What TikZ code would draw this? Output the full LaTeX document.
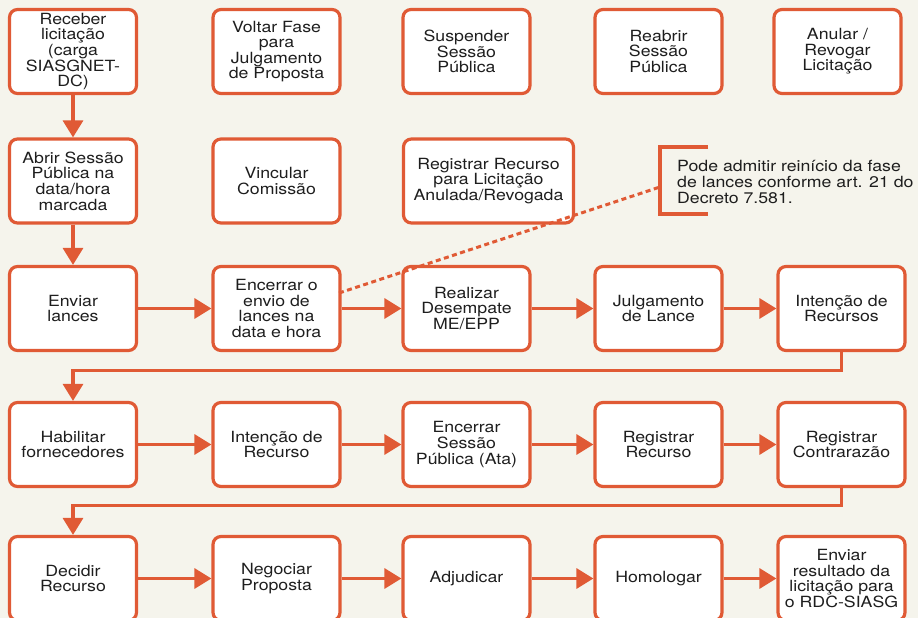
\documentclass[tikz,border=0pt]{standalone}
\usepackage{fontspec}
\setmainfont{TeX Gyre Heros}[FakeStretch=1.15]
\usetikzlibrary{arrows.meta}
\definecolor{bgc}{HTML}{F5F4EC}
\definecolor{org}{HTML}{E05A35}
\definecolor{txt}{HTML}{1E1E1E}
\begin{document}
\begin{tikzpicture}[x=1pt,y=-1pt,
  box/.style={draw=org, line width=3.2pt, fill=white, rounded corners=8pt,
    minimum width=127pt, minimum height=84pt, align=center, inner sep=0pt,
    text=txt, font=\fontsize{15.4}{15.6}\selectfont},
  widebox/.style={box, minimum width=170pt},
  conn/.style={draw=org, line width=3.2pt, -{Triangle[length=17pt,width=20pt]}},
  notedash/.style={draw=org, line width=3pt, dash pattern=on 5pt off 3.5pt},
  bracket/.style={draw=org, line width=3.2pt},
  notetext/.style={align=left, inner sep=0pt, text=txt, anchor=west,
    font=\fontsize{15.4}{16}\selectfont}]
\useasboundingbox (0,0) rectangle (918,618);
\fill[bgc] (0,0) rectangle (918,618);

% row 1
\node[box] (r1c1) at (73,51.5) {Receber\\licitação\\(carga\\SIASGNET-\\DC)};
\node[box] (r1c2) at (276.5,51.5) {Voltar Fase\\para\\Julgamento\\de Proposta};
\node[box] (r1c3) at (466.5,51.5) {Suspender\\Sessão\\Pública};
\node[box] (r1c4) at (658.5,51.5) {Reabrir\\Sessão\\Pública};
\node[box] (r1c5) at (837.5,51.5) {Anular /\\Revogar\\Licitação};
% row 2
\node[box] (r2c1) at (73,181) {Abrir Sessão\\Pública na\\data/hora\\marcada};
\node[box] (r2c2) at (276.5,181) {Vincular\\Comissão};
\node[widebox] (r2c3) at (488.5,181) {Registrar Recurso\\para Licitação\\Anulada/Revogada};
% row 3
\node[box] (r3c1) at (73,308.5) {Enviar\\lances};
\node[box] (r3c2) at (276.5,308.5) {Encerrar o\\envio de\\lances na\\data e hora};
\node[box] (r3c3) at (466.5,308.5) {Realizar\\Desempate\\ME/EPP};
\node[box] (r3c4) at (658.5,308.5) {Julgamento\\de Lance};
\node[box] (r3c5) at (841.5,308.5) {Intenção de\\Recursos};
% row 4
\node[box] (r4c1) at (73,444.5) {Habilitar\\fornecedores};
\node[box] (r4c2) at (276.5,444.5) {Intenção de\\Recurso};
\node[box] (r4c3) at (466.5,444.5) {Encerrar\\Sessão\\Pública (Ata)};
\node[box] (r4c4) at (658.5,444.5) {Registrar\\Recurso};
\node[box] (r4c5) at (841.5,444.5) {Registrar\\Contrarazão};
% row 5
\node[box] (r5c1) at (73,578.5) {Decidir\\Recurso};
\node[box] (r5c2) at (276.5,578.5) {Negociar\\Proposta};
\node[box] (r5c3) at (466.5,578.5) {Adjudicar};
\node[box] (r5c4) at (658.5,578.5) {Homologar};
\node[box] (r5c5) at (841.5,578.5) {Enviar\\resultado da\\licitação para\\o RDC-SIASG};

% connectors
\draw[conn] (r1c1.south) -- (r2c1.north);
\draw[conn] (r2c1.south) -- (r3c1.north);
\foreach \r in {3,4,5}{
  \draw[conn] (r\r c1.east) -- (r\r c2.west);
  \draw[conn] (r\r c2.east) -- (r\r c3.west);
  \draw[conn] (r\r c3.east) -- (r\r c4.west);
  \draw[conn] (r\r c4.east) -- (r\r c5.west);
}
\draw[conn] (r3c5.south) -- ++(0,18.5) -| (r4c1.north);
\draw[conn] (r4c5.south) -- ++(0,17) -| (r5c1.north);

% note
\node[notetext] (note) at (677,182) {Pode admitir reinício da fase\\de lances conforme art. 21 do\\Decreto 7.581.};
\draw[bracket] (708,147) -- (660,147) -- (660,214) -- (708,214);
\coordinate (notejoin) at (660,187);
\coordinate (dstart) at (339,293);
\draw[notedash] (dstart) -- (notejoin);
\end{tikzpicture}
\end{document}
